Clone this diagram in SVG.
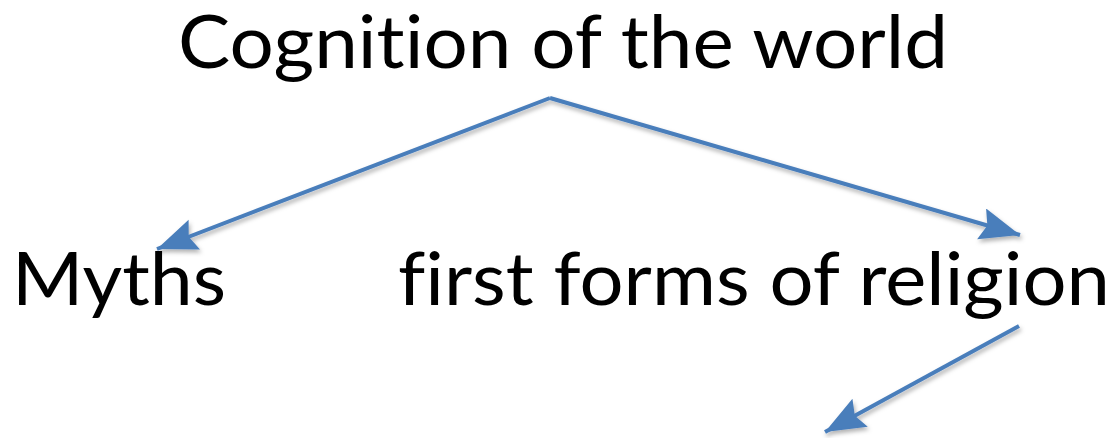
<svg xmlns="http://www.w3.org/2000/svg" width="1119" height="438" viewBox="0 0 1119 438">
<style>
.lbl{font-family:Lato,"Open Sans","Liberation Sans",sans-serif;font-size:73px;fill:#000;font-variant-ligatures:none;font-feature-settings:"liga" 0,"clig" 0}
.conn{stroke:#4A7EBB;stroke-width:4;fill:none}
</style>
<defs>
<marker id="ah" markerUnits="userSpaceOnUse" markerWidth="44" markerHeight="34" refX="40" refY="16" orient="auto">
<path d="M0,0 L40,16 L0,32 L6,16 Z" fill="#4A7EBB"/>
</marker>
<filter id="sh" x="-10%" y="-10%" width="120%" height="130%">
<feDropShadow dx="1.5" dy="3" stdDeviation="2" flood-color="#000" flood-opacity="0.3"/>
</filter>
</defs>
<rect width="1119" height="438" fill="#fff"/>
<g id="n-cognition"><text class="lbl" x="178" y="68" textLength="770" lengthAdjust="spacingAndGlyphs">Cognition of the world</text></g>
<g id="n-myths"><text class="lbl" x="12" y="305" textLength="214" lengthAdjust="spacingAndGlyphs">Myths</text></g>
<g id="n-religion"><text class="lbl" x="398" y="305" textLength="712" lengthAdjust="spacingAndGlyphs">first forms of religion</text></g>
<g id="connectors" filter="url(#sh)">
<path class="conn" d="M550,98 L157,249" marker-end="url(#ah)"/>
<path class="conn" d="M550,98 L1020,235" marker-end="url(#ah)"/>
<path class="conn" d="M1019,326 L825,432" marker-end="url(#ah)"/>
</g>
</svg>
